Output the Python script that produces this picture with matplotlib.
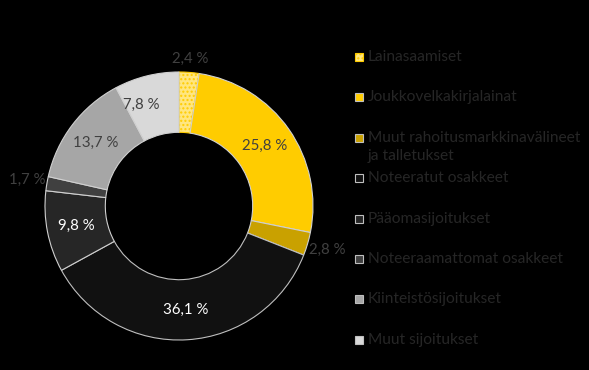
import numpy as np
import matplotlib
matplotlib.use("Agg")
import matplotlib.pyplot as plt
from matplotlib.patches import Rectangle

plt.rcParams["font.family"] = ["Lato", "DejaVu Sans"]

# Data
categories = ["Lainasaamiset", "Joukkovelkakirjalainat",
              "Muut rahoitusmarkkinavälineet\nja talletukset", "Noteeratut osakkeet",
              "Pääomasijoitukset", "Noteeraamattomat osakkeet",
              "Kiinteistösijoitukset", "Muut sijoitukset"]
values = [2.4, 25.8, 2.8, 36.1, 9.8, 1.7, 13.7, 7.8]
colors = ["#ffe680", "#ffcc00", "#c9a100", "#111111", "#262626", "#404040", "#a6a6a6", "#d9d9d9"]
label_colors = ["#404040", "#404040", "#404040", "#ffffff", "#ffffff", "#404040", "#404040", "#404040"]
outside = [True, False, True, False, False, True, False, False]

fig = plt.figure(figsize=(5.89, 3.70), dpi=100, facecolor="black")
ax = fig.add_axes([45 / 589, 30 / 370, 268 / 589, 268 / 370])
ax.set_facecolor("black")

wedges, _ = ax.pie(values, colors=colors, startangle=90, counterclock=False,
                   radius=1, wedgeprops=dict(width=0.45, edgecolor="#d0d0d0", linewidth=0.8))
# dotted first slice
wedges[0].set_hatch("....")
wedges[0].set_edgecolor("#ffcc00")
wedges[3].set_edgecolor("#bfbfbf")

for w, v, c, out in zip(wedges, values, label_colors, outside):
    ang = np.deg2rad((w.theta1 + w.theta2) / 2)
    r = 1.15 if out else 0.78
    if out and v == 2.4:
        r = 1.10
    x, y = r * np.cos(ang), r * np.sin(ang)
    if v == 7.8:
        x -= 0.09
    ax.text(x, y, f"{v:.1f} %".replace(".", ","),
            ha="center", va="center", fontsize=10.8, color=c)

ax.set_xlim(-1, 1)
ax.set_ylim(-1, 1)
ax.set_aspect("equal")
ax.axis("off")

# legend
y0, step = 57, 40.4
for i, (lab, col) in enumerate(zip(categories, colors)):
    y = 370 - (y0 + i * step)
    edge = "#ffcc00" if i == 0 else "#bfbfbf"
    sq = Rectangle((355 / 589, (y - 4) / 370), 8 / 589, 8 / 370, transform=fig.transFigure,
                   facecolor=col, edgecolor=edge, linewidth=0.8, hatch="...." if i == 0 else None)
    fig.patches.append(sq)
    lines = lab.split("\n")
    for j, line in enumerate(lines):
        fig.text(368 / 589, (y - j * 18) / 370, line, ha="left", va="center",
                 fontsize=11.2, color="#262626")

fig.savefig("out.png", dpi=100, facecolor="black")
